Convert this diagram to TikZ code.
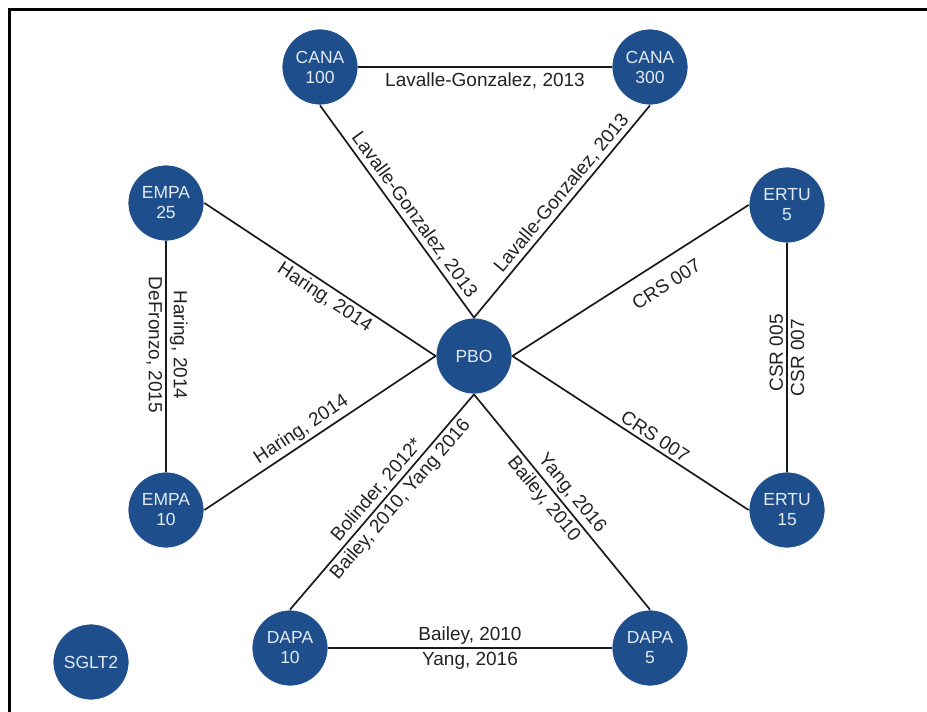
\documentclass[tikz,border=0pt]{standalone}
\usepackage{fontspec}
\setmainfont{Liberation Sans}
\definecolor{nodeblue}{HTML}{1E4F8C}
\definecolor{nodetext}{HTML}{E2EAF4}
\definecolor{linecol}{HTML}{1A1A1A}
\definecolor{labcol}{HTML}{222222}
\begin{document}
\begin{tikzpicture}[x=1pt,y=-1pt,
  drug/.style={circle, fill=nodeblue, draw=white, line width=0.8pt, minimum size=76pt, inner sep=0pt, text=nodetext, font=\fontsize{17.5}{20}\selectfont, align=center},
  link/.style={line width=1.7pt, draw=linecol},
  lab/.style={font=\fontsize{19}{22}\selectfont, text=labcol, inner sep=3pt}]
\useasboundingbox (0,0) rectangle (927,712);
\fill[white] (0,0) rectangle (927,712);
\draw[line width=3pt, black] (9,712) -- (9,9) -- (927,9);

\node[drug] (pbo) at (474,356) {PBO};
\node[drug] (c100) at (320,67) {CANA\\100};
\node[drug] (c300) at (650,67) {CANA\\300};
\node[drug] (e25) at (166,203) {EMPA\\25};
\node[drug] (e10) at (166,510) {EMPA\\10};
\node[drug] (r5) at (787,205) {ERTU\\5};
\node[drug] (r15) at (787,510) {ERTU\\15};
\node[drug] (d10) at (290,648) {DAPA\\10};
\node[drug] (d5) at (650,648) {DAPA\\5};
\node[drug] (sg) at (91,662) {SGLT2};

\draw[link] (c100.east) -- node[lab, below=2pt] {Lavalle-Gonzalez, 2013} (c300.west);
\draw[link] (c100.south) -- node[lab, sloped, above, pos=0.55] {Lavalle-Gonzalez, 2013} (pbo.north);
\draw[link] (pbo.north) -- node[lab, sloped, above, pos=0.55] {Lavalle-Gonzalez, 2013} (c300.south);

\draw[link] (e25.east) -- node[lab, sloped, below, pos=0.55] {Haring, 2014} (pbo.west);
\draw[link] (e10.east) -- node[lab, sloped, above, pos=0.45] {Haring, 2014} (pbo.west);
\draw[link] (e25.south) -- node[lab, rotate=-90, above, pos=0.45] {Haring, 2014} node[lab, rotate=-90, below, pos=0.45] {DeFronzo, 2015} (e10.north);

\draw[link] (pbo.east) -- node[lab, sloped, below=12pt, pos=0.6] {CRS 007} (r5.west);
\draw[link] (pbo.east) -- node[lab, sloped, above, pos=0.58] {CRS 007} (r15.west);
\draw[link] (r15.north) -- node[lab, rotate=90, above, pos=0.52] {CSR 005} node[lab, rotate=90, below, pos=0.5] {CSR 007} (r5.south);

\draw[link] (d10.north) -- node[lab, sloped, above, pos=0.52] {Bolinder, 2012*} node[lab, sloped, below, pos=0.55] {Bailey, 2010, Yang 2016} (pbo.south);
\draw[link] (pbo.south) -- node[lab, sloped, above, pos=0.5] {Yang, 2016} node[lab, sloped, below, pos=0.45] {Bailey, 2010} (d5.north);
\draw[link] (d10.east) -- node[lab, above] {Bailey, 2010} node[lab, below] {Yang, 2016} (d5.west);
\end{tikzpicture}
\end{document}
